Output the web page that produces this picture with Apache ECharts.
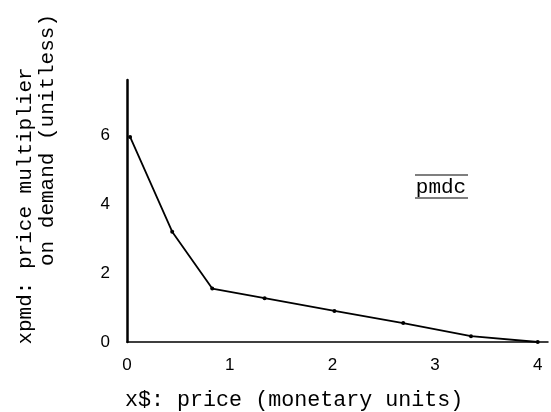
<!DOCTYPE html>
<html>
<head>
<meta charset="utf-8">
<script src="https://cdn.jsdelivr.net/npm/echarts@6/dist/echarts.min.js"></script>
<style>
html,body{margin:0;padding:0;background:#fff;}
#chart{width:551px;height:412px;}
</style>
</head>
<body>
<div id="chart"></div>
<script>
// Data
var priceX = [0.03, 0.44, 0.83, 1.34, 2.02, 2.69, 3.35, 4.0];
var multiplierY = [5.95, 3.2, 1.55, 1.27, 0.9, 0.55, 0.17, 0.0];
var xTitle = 'x$: price (monetary units)';
var yTitleLine1 = 'xpmd: price multiplier';
var yTitleLine2 = 'on demand (unitless)';
var tableName = 'pmdc';

var mono = '"Liberation Mono", "DejaVu Sans Mono", monospace';
var sans = '"Liberation Sans", Arial, sans-serif';
var chart = echarts.init(document.getElementById('chart'), null, {renderer: 'canvas'});
var points = priceX.map(function (x, i) { return [x, multiplierY[i]]; });

chart.setOption({
  backgroundColor: '#fff',
  animation: false,
  grid: {left: 127, right: 3, top: 80, bottom: 70},
  xAxis: {
    type: 'value', min: 0, max: 4.1, interval: 1,
    axisLine: {show: true, lineStyle: {color: '#000', width: 1.5}},
    axisTick: {show: false},
    splitLine: {show: false},
    axisLabel: {showMaxLabel: false, color: '#000', fontSize: 17, margin: 15, fontFamily: sans}
  },
  yAxis: {
    type: 'value', min: 0, max: 7.6, interval: 2,
    axisLine: {show: true, lineStyle: {color: '#000', width: 2.5}},
    axisTick: {show: false},
    splitLine: {show: false},
    axisLabel: {showMaxLabel: false, color: '#000', fontSize: 17, margin: 17, fontFamily: sans}
  },
  series: [{
    type: 'line',
    data: points,
    symbol: 'circle',
    symbolSize: 4,
    itemStyle: {color: '#000'},
    lineStyle: {color: '#000', width: 1.8}
  }],
  graphic: [
    {type: 'text', left: 125, top: 389,
      style: {text: xTitle, font: '21.7px ' + mono, fill: '#000'}},
    {type: 'text', x: 25, y: 206, rotation: Math.PI / 2,
      style: {text: yTitleLine1, font: '21px ' + mono, fill: '#000', align: 'center', verticalAlign: 'middle'}},
    {type: 'text', x: 47, y: 140, rotation: Math.PI / 2,
      style: {text: yTitleLine2, font: '21px ' + mono, fill: '#000', align: 'center', verticalAlign: 'middle'}},
    {type: 'text', x: 441, y: 187,
      style: {text: tableName, font: '21px ' + mono, fill: '#000', align: 'center', verticalAlign: 'middle'}},
    {type: 'line', shape: {x1: 415, y1: 175, x2: 468, y2: 175}, style: {stroke: '#000', lineWidth: 1.2}},
    {type: 'line', shape: {x1: 415, y1: 198, x2: 468, y2: 198}, style: {stroke: '#000', lineWidth: 1.2}}
  ]
});
</script>
</body>
</html>
